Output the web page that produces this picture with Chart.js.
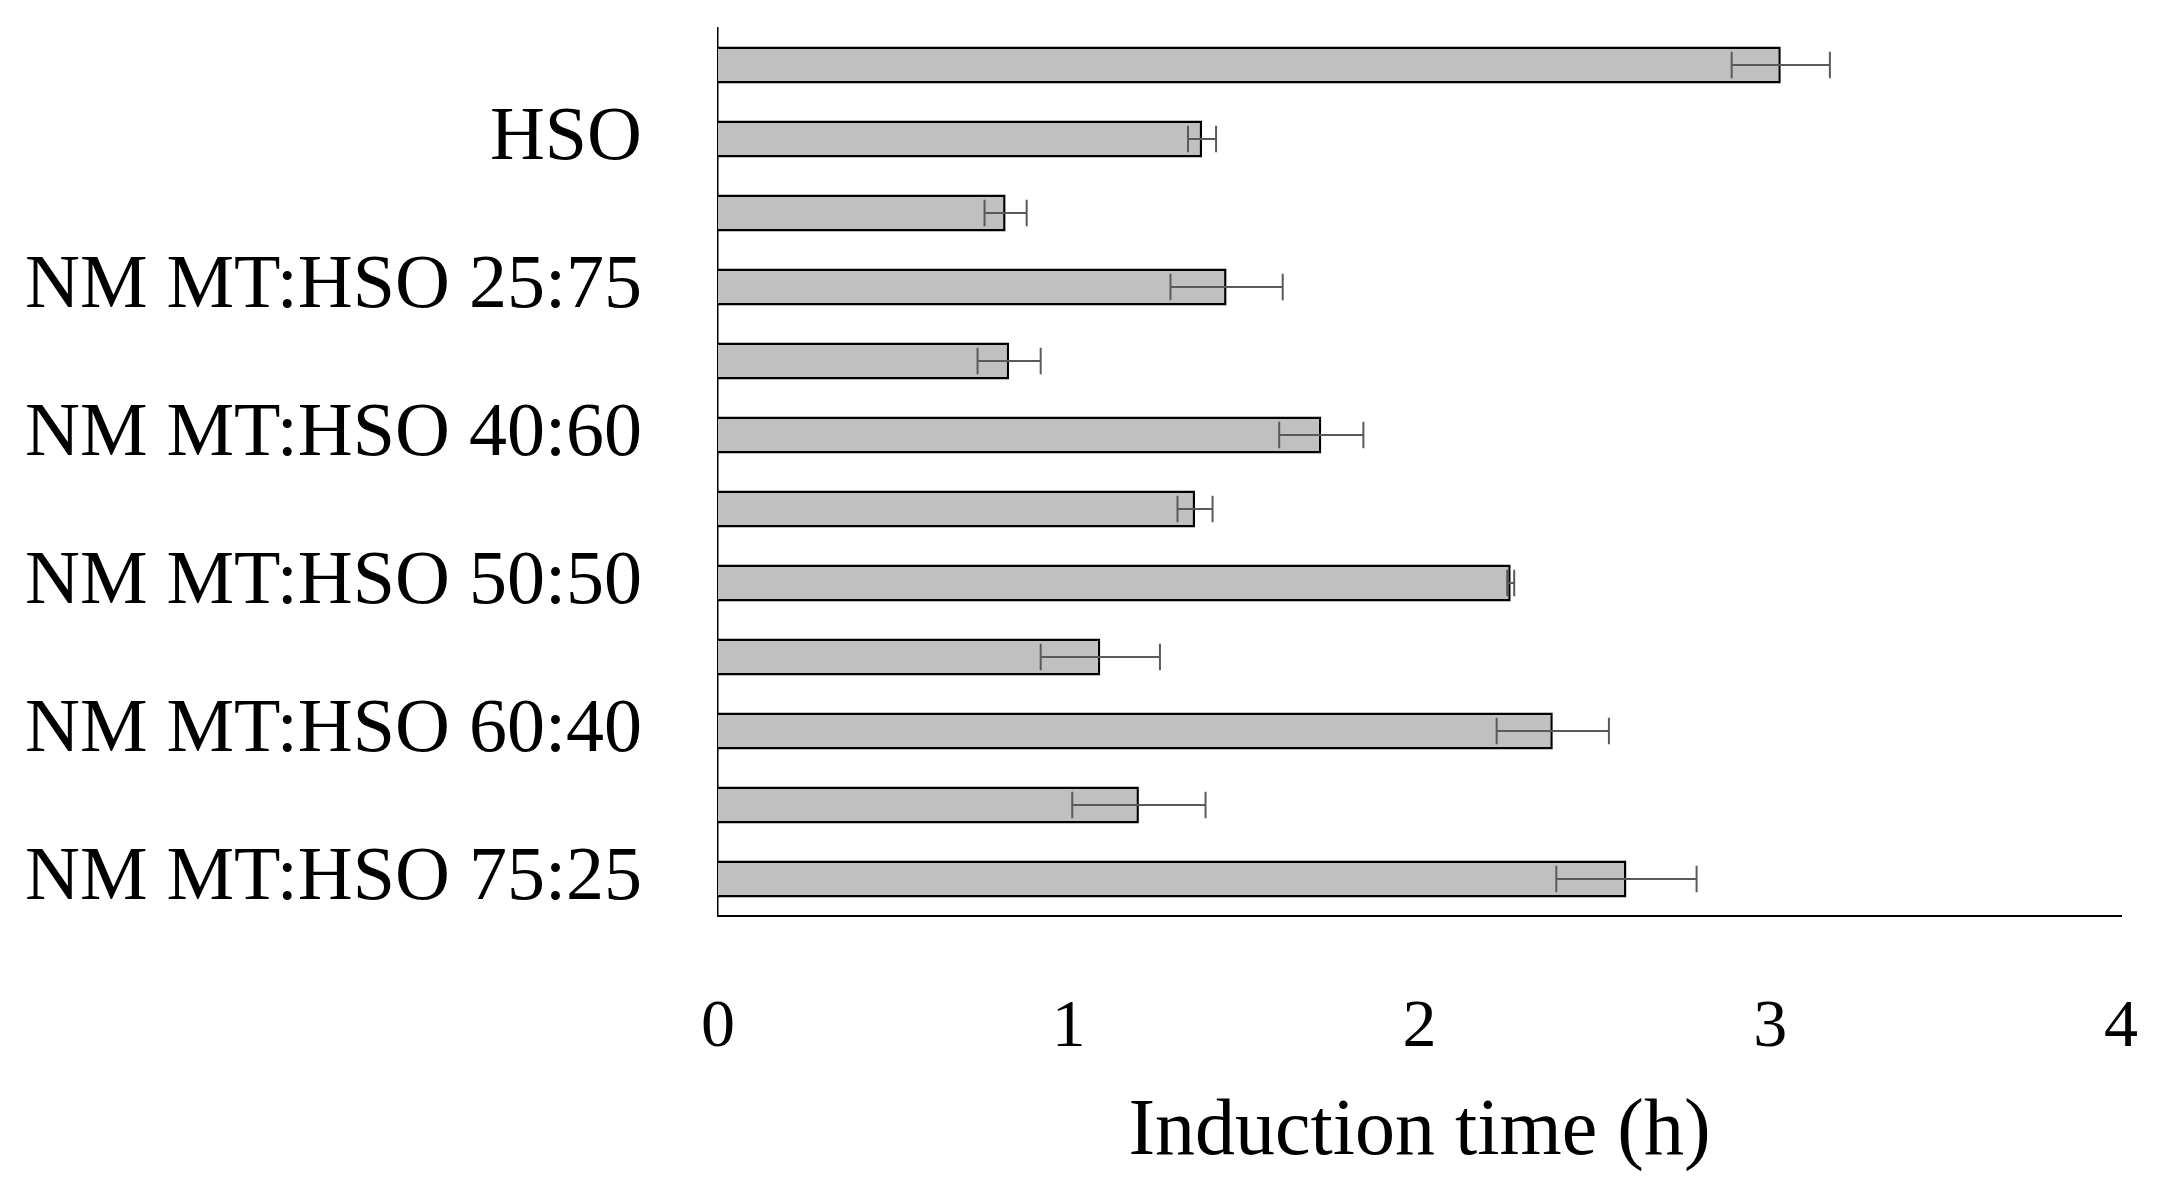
<!DOCTYPE html>
<html>
<head>
<meta charset="utf-8">
<script src="https://cdn.jsdelivr.net/npm/chart.js@4"></script>
<style>
  html, body { margin: 0; padding: 0; background: #fff; }
  #wrap { width: 2165px; height: 1193px; }
</style>
</head>
<body>
<div id="wrap"><canvas id="chart"></canvas></div>
<script>
// Categories (only every second bar carries a label)
const categories = ['', 'HSO', '', 'NM MT:HSO 25:75', '', 'NM MT:HSO 40:60', '', 'NM MT:HSO 50:50', '', 'NM MT:HSO 60:40', '', 'NM MT:HSO 75:25'];
const inductionTime = [3.03, 1.38, 0.82, 1.45, 0.83, 1.72, 1.36, 2.26, 1.09, 2.38, 1.20, 2.59];
const errors = [0.14, 0.04, 0.06, 0.16, 0.09, 0.12, 0.05, 0.01, 0.17, 0.16, 0.19, 0.20];
const xTicks = [0, 1, 2, 3, 4];

const FONT = "'Liberation Serif', 'Times New Roman', serif";

// draws error bars using the chart's own scales
const errorBarPlugin = {
    id: 'errorBars',
    afterDatasetsDraw(chart) {
        const ctx = chart.ctx;
        const xScale = chart.scales.x;
        const meta = chart.getDatasetMeta(0);
        ctx.save();
        ctx.strokeStyle = '#5a5a5a';
        ctx.lineWidth = 2;
        meta.data.forEach((bar, i) => {
            const v = inductionTime[i];
            const e = errors[i];
            const x1 = xScale.getPixelForValue(v - e);
            const x2 = xScale.getPixelForValue(v + e);
            const y = bar.y;
            const capH = bar.height * 0.36;
            ctx.beginPath();
            ctx.moveTo(x1, y);
            ctx.lineTo(x2, y);
            ctx.moveTo(x1, y - capH);
            ctx.lineTo(x1, y + capH);
            ctx.moveTo(x2, y - capH);
            ctx.lineTo(x2, y + capH);
            ctx.stroke();
        });
        ctx.restore();
    }
};

new Chart(document.getElementById('chart'), {
    type: 'bar',
    data: {
        labels: categories,
        datasets: [{
            label: 'Induction time',
            data: inductionTime,
            backgroundColor: '#c0c0c0',
            borderColor: '#000000',
            borderWidth: 2.5,
            borderSkipped: 'start',
            categoryPercentage: 1,
            barPercentage: 0.5
        }]
    },
    options: {
        indexAxis: 'y',
        responsive: true,
        maintainAspectRatio: false,
        animation: false,
        layout: { padding: { top: 28, right: 44, left: 0, bottom: 0 } },
        plugins: {
            legend: { display: false },
            tooltip: { enabled: false }
        },
        scales: {
            x: {
                min: 0,
                max: 4,
                grid: { display: false, drawTicks: false },
                border: { display: true, color: '#000', width: 2 },
                afterBuildTicks: (scale) => {
                    scale.ticks = xTicks.map(v => ({ value: v }));
                },
                ticks: {
                    color: '#000',
                    font: { family: FONT, size: 68 },
                    padding: 71
                },
                title: {
                    display: true,
                    text: 'Induction time (h)',
                    color: '#000',
                    font: { family: FONT, size: 80 },
                    padding: { top: 0, bottom: 12 }
                },
                afterFit: (scale) => {
                    scale.height = 277;
                    scale.paddingLeft = 0;
                    scale.paddingRight = 0;
                }
            },
            y: {
                grid: { display: false, drawTicks: false },
                border: { display: true, color: '#000', width: 1.5 },
                ticks: {
                    color: '#000',
                    font: { family: FONT, size: 76 },
                    padding: 76,
                    autoSkip: false
                },
                afterFit: (scale) => {
                    scale.width = 718;
                    scale.paddingTop = 0;
                    scale.paddingBottom = 0;
                }
            }
        }
    },
    plugins: [errorBarPlugin]
});
</script>
</body>
</html>
